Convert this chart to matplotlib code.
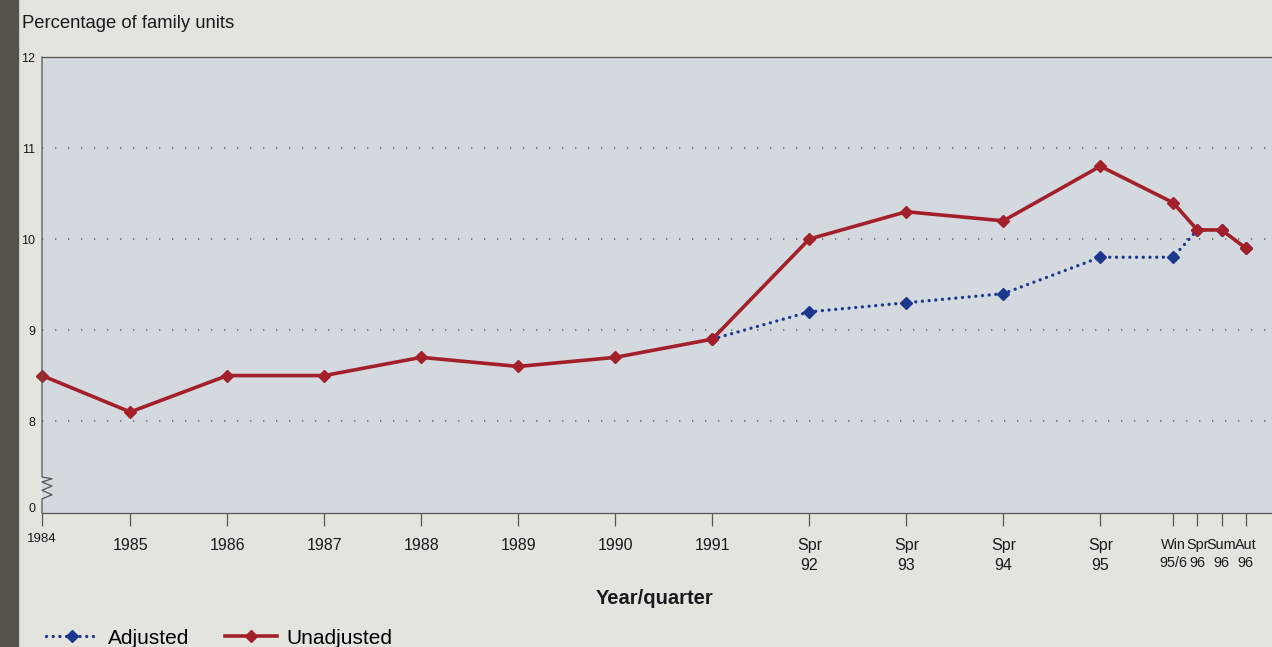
import numpy as np
import matplotlib
matplotlib.use('Agg')
import matplotlib.pyplot as plt
from matplotlib.patches import Rectangle

plt.rcParams['font.family'] = ['Liberation Sans', 'DejaVu Sans']

# categories along the x axis (position in "years" from 1984, quarters as fractions)
periods = ['1984', '1985', '1986', '1987', '1988', '1989', '1990', '1991',
           'Spr\n92', 'Spr\n93', 'Spr\n94', 'Spr\n95',
           'Win\n95/6', 'Spr\n96', 'Sum\n96', 'Aut\n96']
period_pos = [0.09, 1, 2, 3, 4, 5, 6, 7, 8, 9, 10, 11, 11.75, 12, 12.25, 12.5]

unadjusted = [8.5, 8.1, 8.5, 8.5, 8.7, 8.6, 8.7, 8.9,
              10.0, 10.3, 10.2, 10.8, 10.4, 10.1, 10.1, 9.9]
# adjusted series starts in 1991
adj_start = 7
adjusted = [8.9, 9.2, 9.3, 9.4, 9.8, 9.8, 10.1, 10.1, 9.9]

ytick_vals = [7.05, 8, 9, 10, 11, 12]
ytick_labels = ['0', '8', '9', '10', '11', '12']

red = '#a3202a'
blue = '#1c388c'
axis_col = '#555555'

fig = plt.figure(figsize=(12.72, 6.47), dpi=100)
fig.patch.set_facecolor('#e4e4df')
ax = fig.add_axes([42/1272, 134/647, 1 - 42/1272, 456/647])
ax.set_facecolor('#d4d9df')

# dotted gridlines
for v in [8, 9, 10, 11]:
    ax.axhline(v, color='#6f6f6f', lw=1.2, ls=(0, (0.8, 7)), zorder=1)

l_adj, = ax.plot(period_pos[adj_start:], adjusted, color=blue, lw=2.4,
                 ls=(0, (0.01, 2.0)), dash_capstyle='round',
                 marker='D', ms=6.5, zorder=3, label='Adjusted')
l_unadj, = ax.plot(period_pos, unadjusted, color=red, lw=2.6,
                   marker='D', ms=6.5, zorder=4, label='Unadjusted',
                   clip_on=False)

ax.set_xlim(0.09, 12.77)
ax.set_ylim(6.99, 12)

ax.spines['right'].set_visible(False)
ax.spines['left'].set_visible(False)
ax.spines['top'].set_color(axis_col)
ax.spines['top'].set_linewidth(0.9)
ax.spines['bottom'].set_color(axis_col)
ax.spines['bottom'].set_linewidth(0.9)

# left axis line with a zigzag break near the bottom
zx = np.array([0, 0, 0.0081, 0, 0.0081, 0, 0.0081, 0, 0])
zy = np.array([0, 0.031, 0.040, 0.050, 0.059, 0.068, 0.075, 0.079, 1.0])
ax.plot(zx, zy, transform=ax.transAxes, color=axis_col, lw=0.9, clip_on=False, zorder=5)

ax.set_xticks(period_pos)
ax.set_xticklabels(periods, fontsize=11.5, linespacing=1.4)
xl = ax.get_xticklabels()
xl[0].set_fontsize(9.5)
xl[0].set_y(0.012)
for t in xl[12:]:
    t.set_fontsize(10.4)
ax.tick_params(axis='x', length=9, width=0.9, color=axis_col, pad=9, labelcolor='#1a1a1a')

ax.set_yticks(ytick_vals)
ax.set_yticklabels(ytick_labels, fontsize=9)
ax.tick_params(axis='y', length=0, pad=5, labelcolor='#1a1a1a')

fig.text(22/1272, 1 - 23/647, 'Percentage of family units', fontsize=13.3,
         va='center', ha='left', color='#1a1a1a')
fig.text(655/1272, 1 - 598/647, 'Year/quarter', fontsize=14.5, fontweight='bold',
         va='center', ha='center', color='#1a1a1a')

fig.legend(handles=[l_adj, l_unadj], loc='center left',
           bbox_to_anchor=(46/1272, 9/647), ncol=2, frameon=False,
           fontsize=15, handlelength=2.5, handletextpad=0.45,
           columnspacing=1.75, borderaxespad=0, borderpad=0)

# dark binding strip of the scanned page
fig.patches.append(Rectangle((0, 0), 18/1272, 1, transform=fig.transFigure,
                             color='#56534b', zorder=0))

fig.savefig('out.png', dpi=100, facecolor=fig.get_facecolor())
